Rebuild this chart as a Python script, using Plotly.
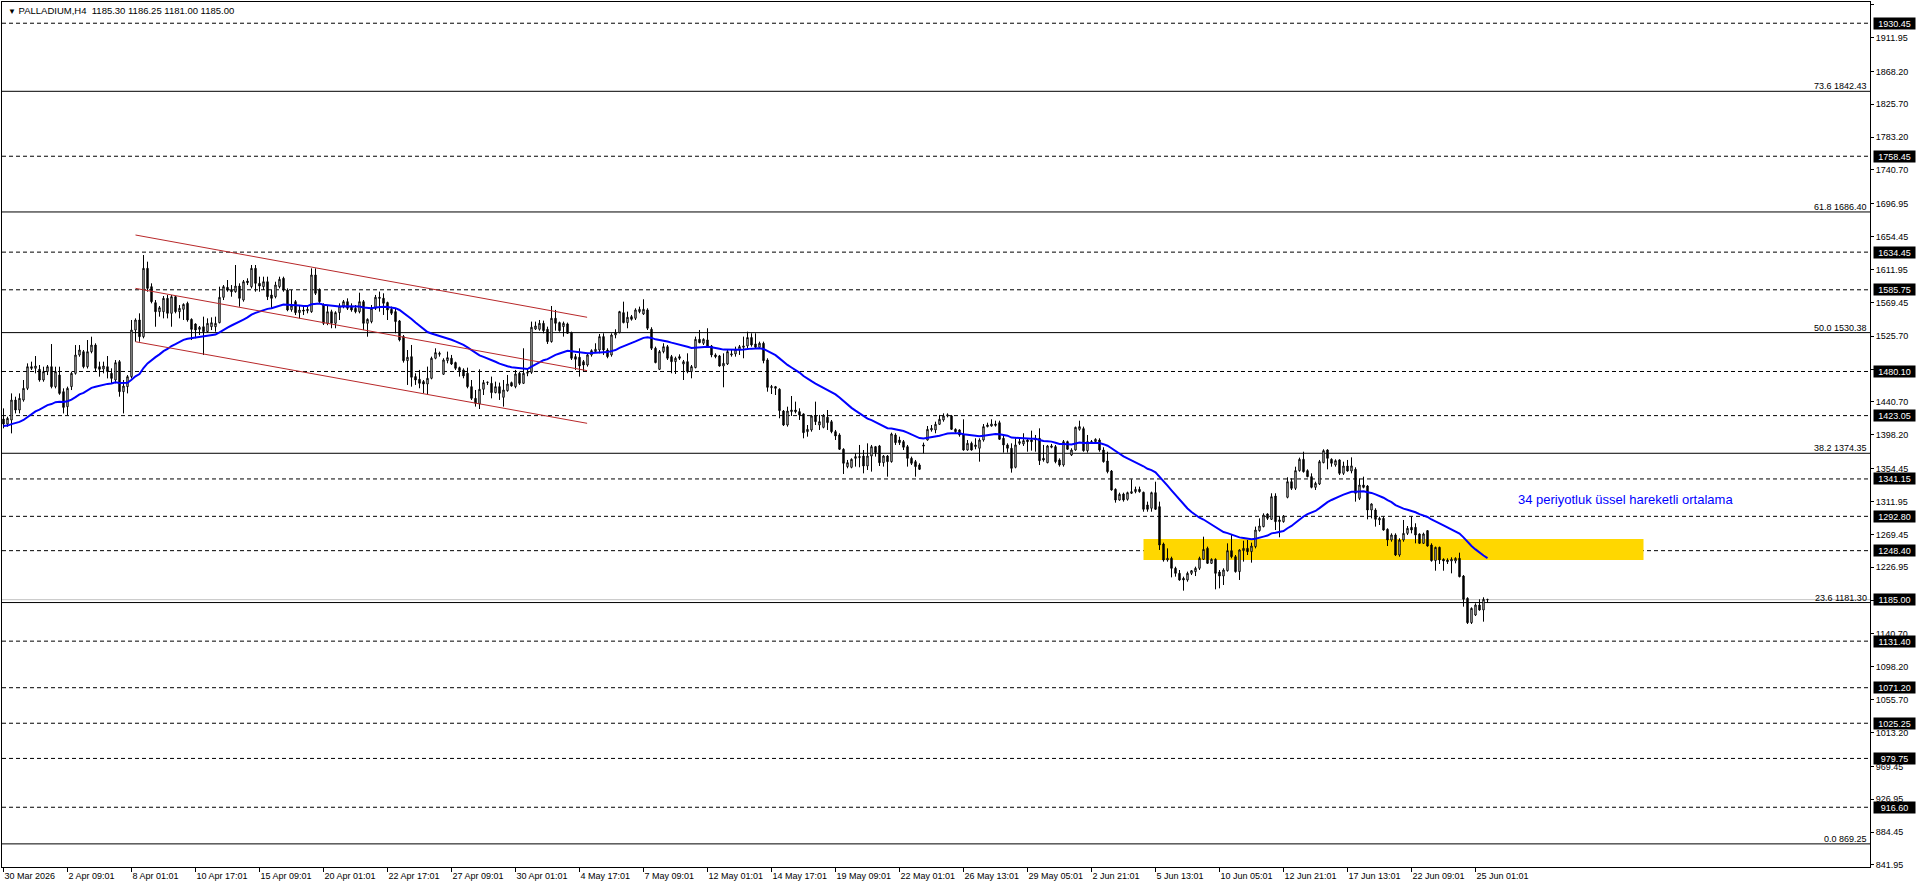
import plotly.graph_objects as go

# ---------------- data ----------------
symbol_title = "PALLADIUM,H4"
last_bar_ohlc = ["1185.30", "1186.25", "1181.00", "1185.00"]

time_labels = ["30 Mar 2026", "2 Apr 09:01", "8 Apr 01:01", "10 Apr 17:01", "15 Apr 09:01",
               "20 Apr 01:01", "22 Apr 17:01", "27 Apr 09:01", "30 Apr 01:01", "4 May 17:01",
               "7 May 09:01", "12 May 01:01", "14 May 17:01", "19 May 09:01", "22 May 01:01",
               "26 May 13:01", "29 May 05:01", "2 Jun 21:01", "5 Jun 13:01", "10 Jun 05:01",
               "12 Jun 21:01", "17 Jun 13:01", "22 Jun 09:01", "25 Jun 01:01"]
bars_per_label = 16

opens = [
 1418.6,1412.2,1417.3,1443.2,1430.3,1443.2,1458.3,1486.3,1484.2,1482.9,
 1469.1,1479.9,1486.3,1460.5,1475.5,1454.0,1434.6,1460.5,1477.7,1501.4,
 1505.7,1486.3,1505.7,1514.3,1486.3,1483.3,1486.3,1477.7,1469.1,1492.8,
 1454.0,1460.5,1473.4,1533.7,1546.7,1525.1,1613.5,1589.8,1569.1,1557.4,
 1557.4,1574.7,1555.3,1576.8,1557.4,1560.5,1568.2,1547.5,1541.5,1534.6,
 1538.0,1531.6,1538.0,1538.0,1543.2,1576.0,1588.9,1586.3,1583.3,1590.6,
 1572.5,1597.1,1589.8,1613.5,1594.1,1589.8,1596.2,1579.0,1576.8,1589.8,
 1600.6,1585.5,1560.0,1570.4,1556.2,1559.6,1558.7,1557.4,1604.9,1585.5,
 1566.1,1542.4,1557.4,1542.4,1556.2,1564.8,1570.4,1564.8,1561.8,1557.4,
 1570.4,1542.4,1544.5,1561.8,1576.1,1574.8,1569.2,1560.5,1557.5,1545.5,
 1525.2,1494.1,1499.3,1473.5,1470.0,1467.0,1463.9,1471.3,1497.2,1502.3,
 1476.5,1494.1,1497.2,1491.6,1485.1,1482.1,1477.8,1460.5,1445.4,1438.1,
 1457.1,1465.7,1464.8,1452.8,1460.5,1446.7,1455.3,1465.7,1460.5,1477.8,
 1464.8,1477.8,1479.0,1535.0,1534.7,1542.4,1534.7,1518.7,1548.9,1543.3,
 1538.1,1541.6,1530.4,1499.3,1498.5,1492.8,1488.5,1501.5,1505.8,1507.9,
 1525.2,1507.9,1501.5,1527.3,1530.4,1556.2,1543.3,1551.0,1548.9,1557.5,
 1554.5,1559.7,1534.7,1510.1,1482.9,1505.8,1512.2,1499.3,1492.8,1499.3,
 1489.8,1492.8,1479.9,1485.1,1521.7,1516.6,1520.9,1513.1,1501.5,1500.2,
 1487.2,1489.8,1501.5,1502.8,1507.9,1511.4,1513.1,1524.0,1515.7,1511.4,
 1516.6,1495.0,1459.2,1460.5,1457.1,1429.0,1410.9,1428.2,1430.3,1428.2,
 1425.2,1402.3,1404.5,1422.6,1410.9,1407.9,1421.0,1415.2,1402.3,1398.0,
 1379.5,1357.1,1356.2,1367.8,1368.7,1370.8,1357.9,1370.8,1382.9,1383.8,
 1362.2,1370.8,1363.5,1398.0,1391.5,1389.4,1382.9,1367.8,1363.5,1359.2,
 1385.1,1391.5,1404.5,1404.5,1411.8,1417.4,1422.6,1422.6,1405.3,1404.5,
 1399.3,1378.6,1387.2,1382.9,1380.8,1391.5,1408.8,1409.6,1412.2,1413.9,
 1393.7,1385.1,1380.8,1356.2,1387.2,1386.4,1391.5,1391.5,1391.5,1393.7,
 1367.8,1362.2,1382.1,1382.9,1365.7,1359.2,1389.4,1372.1,1378.6,1405.3,
 1406.2,1377.7,1388.1,1389.4,1391.5,1378.6,1364.4,1351.4,1327.7,1313.9,
 1321.7,1314.8,1322.6,1324.7,1327.7,1323.9,1307.5,1303.2,1323.4,1305.3,
 1257.0,1236.3,1238.5,1225.6,1219.1,1212.6,1210.5,1219.1,1221.3,1225.6,
 1237.2,1251.4,1232.0,1237.2,1220.8,1215.6,1222.5,1248.4,1240.6,1221.3,
 1248.4,1251.4,1247.1,1253.6,1274.3,1279.5,1295.8,1288.9,1319.1,1285.9,
 1285.9,1317.4,1337.6,1329.0,1351.9,1366.5,1351.9,1344.1,1330.3,1334.6,
 1362.2,1378.6,1366.5,1359.2,1365.7,1348.4,1357.9,1351.4,1353.6,1316.1,
 1333.3,1332.0,1301.0,1301.0,1288.1,1290.2,1276.0,1262.2,1268.7,1242.8,
 1262.2,1270.8,1278.6,1278.6,1270.0,1257.9,1274.3,1255.7,1235.5,1252.7,
 1237.2,1236.3,1235.0,1235.0,1238.5,1215.6,1186.8,1155.3,1165.2,1178.1,
 1171.7,1185.30]

highs = [
 1432.4,1421.6,1451.8,1447.5,1451.8,1469.1,1490.6,1492.8,1500.1,1488.5,
 1486.3,1488.5,1515.6,1486.3,1486.3,1458.3,1460.5,1479.9,1514.3,1514.3,
 1507.9,1520.8,1525.1,1516.5,1492.8,1492.8,1500.1,1484.2,1494.9,1494.9,
 1469.1,1475.5,1546.7,1548.8,1555.3,1630.7,1622.1,1594.1,1572.5,1564.8,
 1577.7,1579.0,1579.0,1577.7,1566.1,1568.2,1570.4,1548.8,1542.4,1538.9,
 1551.0,1548.8,1550.1,1551.0,1589.8,1591.9,1598.4,1591.9,1617.8,1594.1,
 1598.4,1600.6,1617.8,1617.8,1602.7,1602.7,1602.7,1585.5,1596.2,1602.7,
 1602.7,1587.6,1585.5,1572.5,1566.1,1563.9,1563.9,1613.5,1613.5,1587.6,
 1568.2,1566.0,1560.0,1558.0,1568.2,1572.5,1574.7,1568.2,1566.1,1582.0,
 1572.5,1548.8,1566.1,1579.1,1583.4,1581.2,1570.4,1564.0,1561.8,1546.7,
 1527.3,1507.9,1514.4,1477.8,1482.1,1469.1,1486.4,1499.3,1510.1,1505.8,
 1497.2,1505.8,1501.5,1492.8,1486.4,1484.2,1485.1,1469.1,1456.2,1482.9,
 1469.1,1467.0,1473.5,1467.0,1465.7,1469.1,1475.6,1467.0,1482.1,1479.9,
 1510.1,1484.0,1544.6,1544.6,1546.7,1545.9,1538.1,1564.8,1559.7,1544.6,
 1544.6,1543.3,1531.6,1502.8,1510.1,1495.0,1503.6,1508.8,1516.6,1528.6,
 1529.5,1510.1,1529.5,1534.7,1558.5,1570.4,1557.5,1553.2,1561.8,1564.0,
 1573.5,1561.8,1537.3,1512.2,1507.9,1516.6,1514.4,1501.5,1499.3,1502.3,
 1495.0,1503.6,1488.5,1525.2,1533.8,1523.0,1536.0,1514.4,1503.6,1501.5,
 1503.6,1507.9,1507.9,1512.2,1514.4,1525.2,1531.6,1529.5,1529.5,1518.7,
 1518.7,1497.2,1462.7,1461.4,1458.4,1430.3,1434.6,1448.4,1441.1,1432.5,
 1426.0,1410.9,1423.9,1441.1,1423.9,1425.0,1430.3,1417.4,1404.5,1400.2,
 1380.8,1365.7,1367.8,1374.3,1385.1,1378.6,1387.2,1385.1,1383.8,1385.1,
 1372.1,1372.1,1401.0,1400.2,1395.8,1391.5,1385.1,1370.0,1365.7,1361.4,
 1388.1,1409.6,1410.9,1415.2,1423.9,1426.0,1426.0,1423.9,1406.6,1405.3,
 1418.3,1391.5,1389.4,1393.7,1393.7,1412.2,1413.9,1418.3,1416.5,1416.5,
 1398.0,1387.2,1387.2,1393.7,1393.7,1400.2,1393.7,1403.6,1398.0,1406.6,
 1385.1,1385.1,1386.4,1385.1,1367.8,1391.5,1390.7,1380.8,1408.8,1416.5,
 1408.8,1398.0,1391.5,1393.7,1393.7,1382.1,1376.4,1352.7,1329.0,1323.4,
 1323.4,1324.7,1340.7,1331.2,1331.2,1324.7,1311.8,1324.7,1337.6,1311.8,
 1258.8,1251.4,1240.6,1227.7,1223.4,1214.8,1221.3,1223.4,1227.7,1240.6,
 1266.5,1253.6,1238.5,1238.5,1223.4,1225.6,1257.9,1268.7,1242.8,1250.1,
 1261.3,1262.2,1258.8,1279.5,1290.2,1296.7,1296.7,1322.6,1322.6,1292.4,
 1294.5,1343.3,1342.0,1357.0,1368.7,1376.4,1353.6,1348.4,1337.6,1365.7,
 1379.5,1379.5,1367.8,1366.5,1366.5,1363.5,1365.7,1369.1,1356.2,1342.0,
 1344.1,1333.3,1309.6,1303.2,1292.4,1292.4,1277.3,1270.8,1270.8,1264.4,
 1288.1,1280.3,1292.4,1283.8,1270.8,1271.7,1275.1,1257.9,1253.6,1253.6,
 1238.5,1238.5,1239.8,1239.8,1245.8,1216.9,1188.1,1175.1,1180.3,1185.5,
 1188.1,1186.25]

lows = [
 1406.6,1408.7,1400.1,1425.9,1425.9,1441.1,1456.1,1482.0,1477.7,1466.9,
 1466.9,1475.5,1458.3,1458.3,1450.0,1425.9,1423.8,1456.1,1476.0,1499.2,
 1484.2,1484.0,1503.6,1479.9,1473.4,1477.7,1471.2,1464.8,1464.8,1447.5,
 1425.9,1451.8,1471.2,1518.6,1518.6,1523.0,1583.3,1568.2,1538.0,1551.0,
 1548.8,1548.8,1538.0,1555.3,1548.8,1546.7,1544.5,1520.8,1523.0,1527.3,
 1501.4,1530.0,1533.7,1531.6,1542.4,1572.5,1583.3,1576.8,1582.0,1563.9,
 1570.4,1591.9,1587.6,1583.3,1583.3,1585.5,1572.5,1561.8,1574.7,1587.6,
 1583.3,1558.0,1557.4,1553.1,1548.8,1553.1,1555.3,1556.0,1579.0,1568.2,
 1540.2,1540.0,1536.0,1536.0,1546.7,1561.8,1559.6,1557.4,1555.3,1555.3,
 1533.7,1525.1,1542.4,1559.7,1557.5,1553.2,1546.7,1553.2,1529.5,1519.0,
 1491.6,1462.7,1460.5,1462.7,1458.4,1451.9,1451.0,1470.0,1495.9,1499.3,
 1475.6,1490.7,1488.5,1482.1,1473.5,1471.3,1458.4,1443.3,1434.7,1431.6,
 1449.7,1462.7,1445.4,1451.9,1443.3,1434.7,1454.0,1460.5,1458.4,1462.7,
 1463.9,1474.0,1477.0,1533.8,1532.9,1529.5,1515.7,1517.4,1532.9,1531.6,
 1525.2,1528.6,1495.0,1482.1,1473.5,1479.9,1486.4,1499.3,1504.5,1503.6,
 1501.5,1497.2,1499.3,1523.0,1529.5,1542.4,1536.0,1545.9,1546.7,1555.4,
 1553.2,1533.8,1507.9,1490.7,1482.1,1503.6,1495.0,1477.8,1476.9,1495.0,
 1469.1,1477.8,1471.3,1484.2,1516.6,1514.4,1511.4,1498.5,1497.2,1486.4,
 1459.7,1488.5,1499.3,1499.3,1501.5,1497.2,1510.1,1512.2,1510.1,1510.1,
 1490.7,1454.0,1451.0,1449.7,1419.6,1409.6,1408.8,1422.6,1426.0,1417.4,
 1393.7,1395.8,1402.3,1410.9,1404.5,1406.6,1404.5,1400.2,1391.5,1378.6,
 1347.6,1354.9,1354.9,1357.1,1356.2,1348.4,1352.7,1350.6,1370.0,1357.9,
 1357.1,1344.1,1362.2,1385.1,1385.1,1378.6,1357.1,1359.2,1344.1,1352.7,
 1374.3,1390.7,1402.3,1400.2,1410.9,1415.2,1420.8,1404.5,1400.2,1395.8,
 1377.7,1377.7,1377.7,1379.5,1363.5,1389.4,1407.9,1408.8,1408.8,1391.5,
 1375.2,1375.2,1349.3,1354.9,1385.1,1383.8,1376.4,1377.7,1376.4,1359.2,
 1363.5,1361.4,1380.8,1361.4,1357.1,1357.1,1378.6,1370.8,1377.7,1403.6,
 1376.4,1375.2,1386.4,1387.2,1376.4,1362.2,1348.4,1326.0,1310.5,1313.1,
 1311.8,1313.1,1321.7,1322.6,1323.4,1298.8,1298.8,1298.8,1301.0,1249.3,
 1234.2,1234.2,1213.9,1214.8,1209.6,1196.7,1208.3,1216.9,1215.6,1223.4,
 1236.3,1231.2,1231.2,1198.4,1199.7,1204.0,1221.3,1238.5,1220.0,1210.5,
 1234.2,1242.8,1232.9,1251.4,1273.0,1278.6,1288.1,1288.1,1275.1,1265.7,
 1284.6,1316.1,1326.9,1326.9,1350.6,1349.3,1343.3,1329.0,1326.9,1333.3,
 1361.4,1353.6,1357.0,1357.0,1346.3,1346.3,1350.6,1348.4,1311.8,1313.9,
 1329.0,1288.9,1290.2,1279.5,1281.6,1274.3,1254.4,1260.0,1241.5,1240.6,
 1260.0,1268.7,1270.8,1257.9,1257.0,1257.0,1253.6,1234.2,1222.5,1231.2,
 1222.5,1231.2,1219.1,1232.0,1213.9,1176.0,1153.6,1153.6,1163.9,1170.8,
 1156.6,1181.00]

closes = [
 1412.2,1419.5,1443.2,1430.3,1445.4,1458.3,1486.3,1484.2,1487.2,1469.1,
 1479.9,1486.3,1460.5,1479.9,1451.8,1433.7,1458.3,1477.7,1501.4,1507.9,
 1486.3,1505.7,1514.3,1484.2,1482.9,1487.2,1479.9,1471.2,1491.5,1454.0,
 1461.3,1473.4,1533.7,1546.7,1525.1,1613.5,1587.6,1570.4,1557.4,1562.6,
 1574.7,1555.3,1576.8,1557.4,1561.8,1566.9,1546.7,1534.6,1533.7,1537.2,
 1531.6,1542.4,1543.2,1542.4,1576.0,1589.8,1585.5,1583.3,1590.6,1574.7,
 1596.2,1594.9,1613.5,1594.1,1590.6,1596.2,1576.8,1574.7,1591.9,1599.3,
 1585.5,1559.6,1565.0,1556.2,1559.6,1558.3,1560.5,1604.9,1581.2,1570.4,
 1542.4,1557.4,1542.4,1556.2,1564.8,1570.4,1561.8,1559.6,1557.4,1570.4,
 1542.4,1547.5,1561.8,1576.1,1574.8,1568.3,1559.7,1555.4,1544.6,1520.9,
 1494.1,1498.5,1472.6,1469.1,1464.8,1463.9,1471.3,1497.2,1504.5,1503.6,
 1495.0,1498.0,1489.8,1484.2,1481.2,1474.3,1460.5,1445.4,1439.0,1457.1,
 1465.7,1466.2,1452.8,1460.5,1451.9,1456.2,1463.9,1461.4,1476.9,1464.8,
 1477.8,1479.0,1537.3,1539.0,1542.4,1532.9,1518.7,1548.9,1542.4,1532.9,
 1542.4,1529.5,1497.2,1495.9,1487.2,1488.5,1501.5,1507.1,1508.8,1525.2,
 1507.9,1499.3,1527.3,1530.4,1557.5,1543.3,1550.2,1547.6,1559.7,1560.5,
 1560.5,1536.0,1510.1,1491.6,1505.8,1512.2,1497.2,1492.8,1497.2,1497.2,
 1492.8,1479.9,1486.4,1521.7,1517.4,1521.7,1512.2,1501.5,1499.3,1487.2,
 1490.7,1505.8,1502.8,1508.8,1512.2,1513.1,1524.0,1514.4,1511.4,1516.6,
 1494.1,1459.6,1460.5,1458.4,1429.5,1410.9,1429.0,1430.3,1428.2,1423.9,
 1401.0,1405.3,1422.6,1415.2,1415.2,1423.4,1414.0,1402.3,1396.7,1379.5,
 1361.4,1362.2,1366.5,1370.0,1370.0,1357.9,1370.8,1382.9,1375.2,1362.2,
 1370.8,1363.5,1399.3,1388.1,1388.1,1382.1,1367.8,1361.4,1357.1,1353.6,
 1383.8,1405.3,1406.6,1411.8,1418.3,1422.6,1423.9,1405.3,1402.3,1398.0,
 1378.6,1387.2,1378.6,1385.1,1391.5,1408.8,1410.9,1412.2,1410.5,1392.4,
 1385.1,1380.8,1354.9,1385.1,1389.4,1390.7,1389.4,1389.4,1393.7,1364.8,
 1365.7,1383.8,1383.8,1363.5,1359.2,1389.4,1379.5,1378.6,1407.9,1408.8,
 1377.7,1389.4,1389.4,1392.4,1378.6,1363.5,1350.6,1326.9,1313.9,1321.3,
 1313.9,1323.4,1324.7,1327.7,1324.7,1301.9,1301.9,1323.4,1301.9,1255.7,
 1236.3,1238.5,1225.6,1219.1,1210.5,1210.5,1219.1,1222.5,1225.6,1238.5,
 1250.1,1232.0,1237.2,1219.1,1215.6,1223.4,1248.4,1240.6,1221.3,1249.3,
 1251.4,1247.1,1254.4,1275.1,1280.3,1294.5,1290.2,1318.2,1285.9,1288.1,
 1293.2,1337.6,1329.0,1351.9,1366.5,1350.6,1344.1,1330.3,1335.5,1363.5,
 1377.7,1367.8,1361.4,1364.8,1348.4,1357.9,1351.4,1358.0,1322.6,1333.3,
 1330.3,1301.0,1308.8,1288.9,1290.2,1275.1,1262.2,1268.7,1242.8,1262.2,
 1270.8,1277.3,1275.1,1268.7,1257.9,1270.0,1254.4,1235.5,1252.7,1236.3,
 1235.0,1234.2,1237.2,1238.5,1214.8,1185.5,1155.3,1173.8,1178.1,1171.7,
 1185.5,1185.00]

ema_period = 34
ema_start_value = 1409.6          # EMA level at the first visible bar

price_ticks = [1954.45, 1911.95, 1868.20, 1825.70, 1783.20, 1740.70, 1696.95, 1654.45,
               1611.95, 1569.45, 1525.70, 1483.20, 1440.70, 1398.20, 1354.45, 1311.95,
               1269.45, 1226.95, 1184.45, 1140.70, 1098.20, 1055.70, 1013.20, 969.45,
               926.95, 884.45, 841.95]
price_range = [839.35, 1957.9]

dashed_levels = [1930.45, 1758.45, 1634.45, 1585.75, 1480.10, 1423.05, 1341.15,
                 1292.80, 1248.40, 1131.40, 1071.20, 1025.25, 979.75, 916.60]
fib_ratios = ["73.6", "61.8", "50.0", "38.2", "23.6", "0.0"]
fib_levels = [1842.43, 1686.40, 1530.38, 1374.35, 1181.30, 869.25]
current_price = 1185.00

channel_bars = [33, 145.9]
channel_upper = [1656.6, 1550.2]
channel_middle = [1587.6, 1481.2]
channel_lower = [1518.6, 1413.1]

zone_bars = [285, 410]
zone_prices = [1236.3, 1263.5]

ema_label = "34 periyotluk üssel hareketli ortalama"
ema_label_bar = 378
ema_label_price = 1315.2

visible_bars = [-0.375, 466.625]

# ---------------- derived ----------------
n = len(closes)
xs = list(range(n))
alpha = 2.0 / (ema_period + 1)
ema = [ema_start_value]
for c in closes[1:]:
    ema.append(alpha * c + (1 - alpha) * ema[-1])

FONT = "Liberation Sans, Arial, sans-serif"

fig = go.Figure()
fig.add_trace(go.Candlestick(
    x=xs, open=opens, high=highs, low=lows, close=closes,
    increasing=dict(line=dict(color="black", width=1), fillcolor="white"),
    decreasing=dict(line=dict(color="black", width=1), fillcolor="black"),
    whiskerwidth=0, hoverinfo="skip", showlegend=False))
fig.add_trace(go.Scatter(x=xs, y=ema, mode="lines", line=dict(color="#0000ff", width=2),
                         hoverinfo="skip", showlegend=False))
for ch in (channel_upper, channel_middle, channel_lower):
    fig.add_trace(go.Scatter(x=channel_bars, y=ch, mode="lines",
                             line=dict(color="#b8282a", width=1),
                             hoverinfo="skip", showlegend=False))

shapes = []
shapes.append(dict(type="rect", xref="x", yref="y", x0=zone_bars[0], x1=zone_bars[1],
                   y0=zone_prices[0], y1=zone_prices[1], fillcolor="#ffd700",
                   line=dict(width=0), layer="below"))
for lv in dashed_levels:
    shapes.append(dict(type="line", xref="paper", x0=0, x1=1, yref="y", y0=lv, y1=lv,
                       line=dict(color="black", width=1, dash="4px,3px"), layer="below"))
for lv in fib_levels:
    shapes.append(dict(type="line", xref="paper", x0=0, x1=1, yref="y", y0=lv, y1=lv,
                       line=dict(color="black", width=1), layer="below"))
shapes.append(dict(type="line", xref="paper", x0=0, x1=1, yref="y", y0=current_price,
                   y1=current_price, line=dict(color="#c0c0c0", width=1), layer="below"))

annotations = []
for lv in dashed_levels + [current_price]:
    annotations.append(dict(text=f"{lv:.2f}", xref="paper", x=1, xanchor="left", xshift=3,
                            yref="y", y=lv, yanchor="middle", showarrow=False,
                            bgcolor="black", font=dict(color="white", size=9, family=FONT),
                            width=41, height=11, borderpad=0))
for r, lv in zip(fib_ratios, fib_levels):
    annotations.append(dict(text=f"{r} {lv:.2f}", xref="paper", x=1, xanchor="right",
                            xshift=-1, yref="y", y=lv, yanchor="bottom", yshift=-2,
                            showarrow=False, font=dict(color="black", size=9, family=FONT)))
annotations.append(dict(
    text="<span style='font-size:8px'>▼</span>\u00a0" + symbol_title + "\u00a0\u00a0" + " ".join(last_bar_ohlc),
    xref="paper", x=0, xanchor="left", xshift=4, yref="paper", y=1, yanchor="top", yshift=-1,
    showarrow=False, font=dict(color="black", size=9.5, family=FONT)))
annotations.append(dict(text=ema_label, xref="x", x=ema_label_bar, xanchor="left",
                        yref="y", y=ema_label_price, yanchor="middle", showarrow=False,
                        font=dict(color="#0000ff", size=13, family=FONT)))

fig.update_layout(
    width=1916, height=888,
    margin=dict(l=2, r=46, t=2, b=21),
    paper_bgcolor="white", plot_bgcolor="white",
    showlegend=False, hovermode=False, dragmode=False,
    font=dict(family=FONT, size=9, color="black"),
    shapes=shapes, annotations=annotations,
    boxgap=0.5,
    xaxis=dict(range=visible_bars, tickmode="array",
               tickvals=[bars_per_label * k for k in range(len(time_labels))],
               ticktext=time_labels, ticks="outside", ticklen=4, tickcolor="black",
               ticklabelposition="outside right",
               showline=True, linecolor="black", linewidth=1, mirror=True,
               showgrid=False, zeroline=False, rangeslider=dict(visible=False),
               tickfont=dict(size=9, family=FONT, color="black")),
    yaxis=dict(side="right", range=price_range, tickmode="array", tickvals=price_ticks,
               tickformat=".2f", ticks="outside", ticklen=3, tickcolor="black",
               showline=True, linecolor="black", linewidth=1, mirror=True,
               showgrid=False, zeroline=False,
               tickfont=dict(size=9, family=FONT, color="black")),
)

fig.write_html("out.html", config={"displayModeBar": False, "staticPlot": True})
